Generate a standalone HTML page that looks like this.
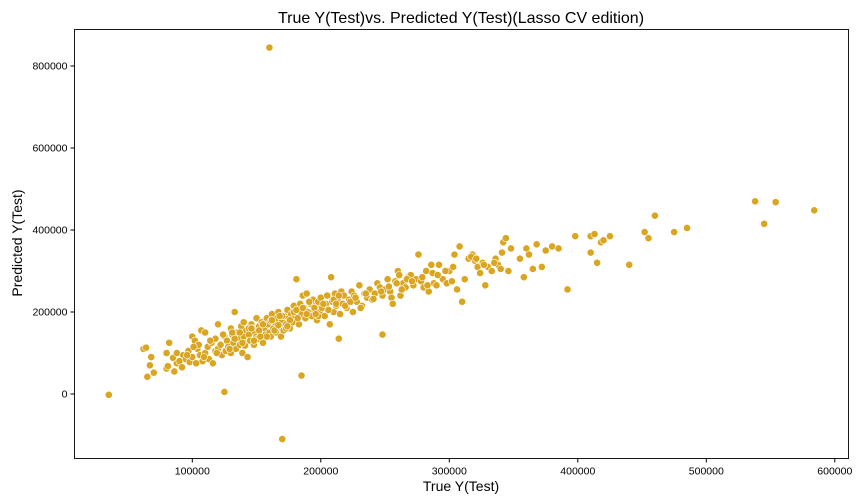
<!DOCTYPE html>
<html><head><meta charset="utf-8"><style>
body{margin:0;background:#fff;}
svg{display:block;font-family:"Liberation Sans","DejaVu Sans",sans-serif;}
</style></head><body>
<svg id="chart" width="864" height="504" viewBox="0 0 864 504">
<text x="461" y="23" text-anchor="middle" font-size="16" fill="#000">True Y(Test)vs. Predicted Y(Test)(Lasso CV edition)</text>
<text x="461" y="491" text-anchor="middle" font-size="14" fill="#000">True Y(Test)</text>
<text transform="translate(22,243) rotate(-90)" text-anchor="middle" font-size="14" fill="#000">Predicted Y(Test)</text>
<g id="points"></g>
<g id="axes"></g>
</svg>
<script>
const trueY=[35,62,64,65,67,68,70,80,80,81,82,85,86,88,88,90,92,93,95,97,98,100,100,102,103,104,105,106,107,108,110,110,112,113,115,116,118,118,120,120,122,123,125,125,126,127,128,130,130,131,132,133,134,135,136,137,138,139,140,140,141,142,143,144,145,146,147,148,149,150,150,151,152,153,154,155,156,157,158,159,160,160,161,162,163,164,165,166,167,168,169,170,170,171,172,173,174,175,176,177,178,179,180,181,182,183,184,185,185,186,187,188,189,190,192,193,194,195,196,197,198,199,200,201,203,204,205,206,207,208,209,210,211,212,213,214,215,216,217,218,220,222,224,225,226,228,230,232,234,236,238,240,242,244,246,248,248,250,252,254,255,256,258,260,261,262,264,266,268,270,272,274,276,278,280,282,284,286,288,290,292,295,298,300,302,304,306,308,310,312,315,318,320,322,324,326,328,330,333,336,338,340,342,344,346,348,355,358,360,362,365,368,372,375,380,385,392,398,410,410,413,415,418,420,425,440,452,455,460,475,485,538,545,554,584,
 96,101,109,114,119,124,129,133,137,141,144,148,152,155,158,161,164,167,170,173,176,179,182,186,189,191,195,198,202,206,210,214,219,223,227,231,235,241,247,253,259,263,267,271,279,283,287,291,297,303,317,321,327,335,341,131,139,146,153,162,168,174,181,196,212];
const predY=[-2,110,113,42,70,90,52,62,100,68,125,88,55,75,100,80,65,95,85,105,78,140,90,130,75,110,120,95,155,80,150,100,115,85,125,75,135,105,170,110,120,95,140,5,105,130,115,160,100,145,125,200,110,150,135,120,165,100,140,175,125,155,90,145,130,170,160,120,150,185,140,135,165,150,175,125,160,145,185,170,150,845,140,195,160,175,150,185,200,165,140,180,-110,155,190,170,205,185,160,195,175,215,190,280,200,170,220,45,195,240,210,185,245,200,220,190,230,205,215,180,225,200,235,210,190,220,240,205,170,285,225,200,245,215,230,135,195,250,220,240,210,230,250,200,240,225,265,215,245,235,255,230,245,270,260,145,240,255,280,250,235,220,275,300,290,240,270,260,285,290,265,280,340,275,260,300,250,315,270,265,315,280,270,300,275,340,255,360,225,280,330,340,325,310,295,320,265,310,300,330,315,305,370,380,300,355,330,285,355,340,305,365,310,350,360,355,255,385,345,385,390,320,370,375,385,315,395,380,435,395,405,470,415,468,448,
 95,115,90,130,100,145,110,135,150,118,160,130,155,170,140,178,155,168,190,160,180,200,185,210,195,225,210,190,220,205,230,240,215,225,235,210,245,232,250,262,270,255,280,275,285,265,295,290,300,310,335,330,315,320,345,150,125,160,140,180,190,165,205,195,220];
const xTicks=[100000,200000,300000,400000,500000,600000];
const yTicks=[0,200000,400000,600000,800000];
const L=74.5,R=848.5,T=29.5,B=458.5;
const xs=v=>63.8+v*128.5/100000;
const ys=v=>394-v*82/200000;
const NS="http://www.w3.org/2000/svg";
const pg=document.getElementById('points');
for(let i=0;i<trueY.length;i++){
  const c=document.createElementNS(NS,'circle');
  c.setAttribute('cx',xs(trueY[i]*1000));c.setAttribute('cy',ys(predY[i]*1000));
  c.setAttribute('r',3.6);c.setAttribute('fill','#DAA520');c.setAttribute('stroke','#fff');c.setAttribute('stroke-width',0.6);
  
  
  pg.appendChild(c);
}
const ag=document.getElementById('axes');
const box=document.createElementNS(NS,'rect');
box.setAttribute('x',L);box.setAttribute('y',T);box.setAttribute('width',R-L);box.setAttribute('height',B-T);
box.setAttribute('fill','none');box.setAttribute('stroke','#000');box.setAttribute('stroke-width',0.9);


ag.appendChild(box);
xTicks.forEach(t=>{
  const x=xs(t);
  const l=document.createElementNS(NS,'line');
  l.setAttribute('x1',x);l.setAttribute('x2',x);l.setAttribute('y1',B);l.setAttribute('y2',B+4);l.setAttribute('stroke','#000');
  
  
  ag.appendChild(l);
  const tx=document.createElementNS(NS,'text');
  tx.setAttribute('x',x);tx.setAttribute('y',B+16);tx.setAttribute('text-anchor','middle');tx.setAttribute('font-size','10.5');
  tx.textContent=t;
  
  
  ag.appendChild(tx);
});
yTicks.forEach(t=>{
  const y=ys(t);
  const l=document.createElementNS(NS,'line');
  l.setAttribute('x1',L-4);l.setAttribute('x2',L);l.setAttribute('y1',y);l.setAttribute('y2',y);l.setAttribute('stroke','#000');
  
  
  ag.appendChild(l);
  const tx=document.createElementNS(NS,'text');
  tx.setAttribute('x',L-7);tx.setAttribute('y',y+3.5);tx.setAttribute('text-anchor','end');tx.setAttribute('font-size','10.5');
  tx.textContent=t;
  
  
  ag.appendChild(tx);
});
</script>
</body></html>
